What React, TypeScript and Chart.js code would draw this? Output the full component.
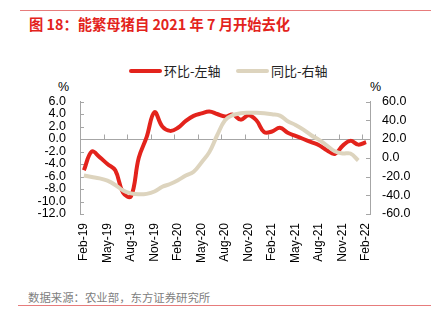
import { useEffect, useRef } from 'react';
import { Chart, registerables } from 'chart.js';

Chart.register(...registerables);

const categories = [
  'Feb-19', 'Mar-19', 'Apr-19', 'May-19', 'Jun-19', 'Jul-19', 'Aug-19', 'Sep-19', 'Oct-19', 'Nov-19', 'Dec-19',
  'Jan-20', 'Feb-20', 'Mar-20', 'Apr-20', 'May-20', 'Jun-20', 'Jul-20', 'Aug-20', 'Sep-20', 'Oct-20', 'Nov-20', 'Dec-20',
  'Jan-21', 'Feb-21', 'Mar-21', 'Apr-21', 'May-21', 'Jun-21', 'Jul-21', 'Aug-21', 'Sep-21', 'Oct-21', 'Nov-21', 'Dec-21',
  'Jan-22', 'Feb-22',
];

// 环比 (left axis, %)
const momValues = [
  -5.0, -2.0, -2.9, -4.0, -5.0, -8.6, -9.2, -3.0, 0.3, 4.3, 2.0,
  1.3, 1.8, 2.9, 3.7, 4.1, 4.4, 4.0, 3.6, 3.9, 3.1, 3.8, 3.0,
  1.1, 1.2, 1.8, 1.0, 0.5, 0.0, -0.5, -1.0, -1.8, -2.4, -1.1, -0.3,
  -0.9, -0.5,
];

// 同比 (right axis, %)
const yoyValues: (number | null)[] = [
  -19, -20.5, -22, -24.5, -29, -35, -38, -39, -38.5, -36, -31,
  -28, -24, -19, -15, -5, 6, 24, 40, 45.5, 47.5, 48, 48,
  47.5, 46.5, 45, 39, 35, 30, 24, 19, 13, 7, 4.5, 4.5,
  -3, null,
];

const leftAxis = { min: -12, max: 6, step: 2 };
const rightAxis = { min: -60, max: 60, step: 20 };
const labelEvery = 3;

const RED = '#E3231C';
const BEIGE = '#DDD4BE';
const AXIS = '#A6A6A6';
const FONT = '"Liberation Sans", Arial, sans-serif';
const CJK = '"Noto Sans CJK SC", sans-serif';

export default function App() {
  const ref = useRef<HTMLCanvasElement>(null);

  useEffect(() => {
    if (!ref.current) return;
    const insideTicks = {
      id: 'insideTicks',
      beforeDatasetsDraw(chart: any) {
        const { ctx, chartArea, scales } = chart;
        const yl = scales.yLeft;
        const yr = scales.yRight;
        const x = scales.x;
        ctx.save();
        ctx.strokeStyle = AXIS;
        ctx.lineWidth = 1;
        const line = (x1: number, y1: number, x2: number, y2: number) => {
          ctx.beginPath();
          ctx.moveTo(x1, y1);
          ctx.lineTo(x2, y2);
          ctx.stroke();
        };
        yl.ticks.forEach((t: any) => {
          const y = Math.round(yl.getPixelForValue(t.value)) + 0.5;
          line(chartArea.left, y, chartArea.left + 4, y);
        });
        yr.ticks.forEach((t: any) => {
          const y = Math.round(yr.getPixelForValue(t.value)) + 0.5;
          line(chartArea.right - 4, y, chartArea.right, y);
        });
        const zeroY = Math.round(yl.getPixelForValue(0)) + 0.5;
        const half = (x.getPixelForValue(1) - x.getPixelForValue(0)) / 2;
        for (let i = 0; i < categories.length; i += labelEvery) {
          const px = Math.round(x.getPixelForValue(i) - half) + 0.5;
          line(px, zeroY - 5, px, zeroY);
        }
        ctx.restore();
      },
    };

    const chart = new Chart(ref.current, {
      type: 'line',
      data: {
        labels: categories,
        datasets: [
          {
            label: '同比-右轴',
            data: yoyValues,
            yAxisID: 'yRight',
            borderColor: BEIGE,
            backgroundColor: BEIGE,
            borderWidth: 4,
            pointRadius: 0,
            tension: 0.4,
            spanGaps: false,
          },
          {
            label: '环比-左轴',
            data: momValues,
            yAxisID: 'yLeft',
            borderColor: RED,
            backgroundColor: RED,
            borderWidth: 4,
            pointRadius: 0,
            tension: 0.4,
          },
        ],
      },
      options: {
        responsive: false,
        animation: false,
        layout: { padding: { top: 20, left: 0, right: 0, bottom: 0 } },
        plugins: { legend: { display: false }, tooltip: { enabled: false } },
        scales: {
          x: {
            type: 'category',
            offset: true,
            grid: { display: false, drawTicks: false },
            border: { display: false },
            ticks: {
              autoSkip: false,
              minRotation: 90,
              maxRotation: 90,
              padding: 9,
              color: '#000',
              font: { family: FONT, size: 12 },
              callback: (_v: any, idx: number) => (idx % labelEvery === 0 ? categories[idx] : ''),
            },
            afterFit: (s: any) => {
              s.height = 56;
            },
          },
          yLeft: {
            type: 'linear',
            position: 'left',
            min: leftAxis.min,
            max: leftAxis.max,
            grid: {
              drawTicks: false,
              color: (c: any) => (c.tick && c.tick.value === 0 ? AXIS : 'rgba(0,0,0,0)'),
            },
            border: { display: true, color: AXIS },
            ticks: {
              stepSize: leftAxis.step,
              autoSkip: false,
              padding: 14,
              color: '#000',
              font: { family: FONT, size: 12.5 },
              callback: (v: any) => Number(v).toFixed(1),
            },
            afterFit: (s: any) => {
              s.width = 80;
            },
          },
          yRight: {
            type: 'linear',
            position: 'right',
            min: rightAxis.min,
            max: rightAxis.max,
            grid: { display: false, drawTicks: false },
            border: { display: true, color: AXIS },
            ticks: {
              stepSize: rightAxis.step,
              autoSkip: false,
              padding: 12,
              color: '#000',
              font: { family: FONT, size: 12.5 },
              callback: (v: any) => Number(v).toFixed(1),
            },
            afterFit: (s: any) => {
              s.width = 66;
            },
          },
        },
      },
      plugins: [insideTicks],
    });
    return () => chart.destroy();
  }, []);

  const legendItem = (color: string, text: string, left: number) => (
    <div style={{ position: 'absolute', left, top: 62, height: 18, display: 'flex', alignItems: 'center' }}>
      <div style={{ width: 33, height: 4, background: color, borderRadius: 2 }} />
      <span style={{ marginLeft: 2, fontFamily: CJK, fontSize: 13, color: '#222', lineHeight: '18px' }}>{text}</span>
    </div>
  );

  return (
    <div style={{ position: 'absolute', left: 0, top: 0, width: 436, height: 323, background: '#fff', overflow: 'hidden' }}>
      <div style={{ position: 'absolute', left: 20, top: 10, width: 411, height: 1, background: '#E77C7C' }} />
      <div
        style={{
          position: 'absolute',
          left: 29,
          top: 14,
          fontFamily: CJK,
          fontSize: 14.3,
          fontWeight: 'bold',
          color: '#E3231C',
          lineHeight: '20px',
          whiteSpace: 'nowrap',
        }}
      >
        图 18：能繁母猪自 2021 年 7 月开始去化
      </div>
      {legendItem(RED, '环比-左轴', 129)}
      {legendItem(BEIGE, '同比-右轴', 236)}
      <div style={{ position: 'absolute', left: 58, top: 79, fontFamily: FONT, fontSize: 12.5, color: '#000', lineHeight: '16px' }}>%</div>
      <div style={{ position: 'absolute', left: 370, top: 79, fontFamily: FONT, fontSize: 12.5, color: '#000', lineHeight: '16px' }}>%</div>
      <canvas ref={ref} width={436} height={190} style={{ position: 'absolute', left: 0, top: 80, width: 436, height: 190 }} />
      <div
        style={{
          position: 'absolute',
          left: 28,
          top: 289,
          fontFamily: CJK,
          fontSize: 11.4,
          color: '#808080',
          lineHeight: '16px',
          whiteSpace: 'nowrap',
        }}
      >
        数据来源：农业部，东方证券研究所
      </div>
      <div style={{ position: 'absolute', left: 18, top: 305, width: 413, height: 1, background: '#E77C7C' }} />
    </div>
  );
}
